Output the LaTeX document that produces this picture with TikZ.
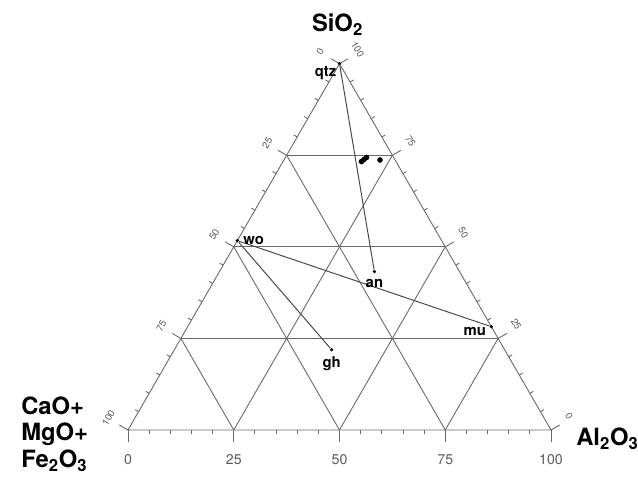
\documentclass[tikz,border=0pt]{standalone}
\usepackage{fontspec}
\setmainfont{TeX Gyre Heros}
\usetikzlibrary{positioning}
\definecolor{gridgray}{RGB}{105,105,105}
\definecolor{tiegray}{RGB}{70,70,70}
\definecolor{numgray}{RGB}{90,90,90}

\begin{document}
\begin{tikzpicture}[x=0.023641cm, y=0.023641cm,
  gridline/.style={gridgray, line width=0.6pt},
  tieline/.style={tiegray, line width=0.65pt},
  phasedot/.style={circle, fill=black, inner sep=0pt, minimum size=2.4pt},
  sampledot/.style={circle, fill=black, inner sep=0pt, minimum size=3.8pt},
  phaselbl/.style={font=\fontsize{10}{12}\selectfont\bfseries, inner sep=1pt},
  oxide/.style={font=\fontsize{16}{18}\selectfont\bfseries, inner sep=0pt},
  axisnum/.style={numgray, font=\fontsize{9.5}{11}\selectfont, inner sep=0pt},
  edgenum/.style={numgray, font=\fontsize{6.5}{8}\selectfont, inner sep=0pt}]
  \useasboundingbox (-128,-47) rectangle (510,430);
  \coordinate (cao) at (0,0);
  \coordinate (alo) at (423,0);
  \coordinate (sio) at (211.5,366.3);

  \draw[gridline] (cao) -- (alo) -- (sio) -- cycle;
  \foreach \v [evaluate=\v as \f using \v/100,
               evaluate=\v as \w using 1-\v/100] in {25,50,75} {
    \draw[gridline] (barycentric cs:cao=\w,sio=\f) -- (barycentric cs:alo=\w,sio=\f);
    \draw[gridline] (barycentric cs:cao=\w,alo=\f) -- (barycentric cs:alo=\f,sio=\w);
    \draw[gridline] (barycentric cs:alo=\w,cao=\f) -- (barycentric cs:cao=\f,sio=\w);
  }
  \foreach \v [evaluate=\v as \f using \v/100,
               evaluate=\v as \w using 1-\v/100,
               evaluate=\v as \tl using {mod(\v,25)==0 ? 12 : 4},
               evaluate=\v as \sl using {mod(\v,25)==0 ? 10 : 4}] in {0,5,...,100} {
    \draw[gridline] (barycentric cs:cao=\w,alo=\f) -- ++(0,-\tl);
    \draw[gridline] (barycentric cs:cao=\f,sio=\w) -- ++(150:\sl);
    \draw[gridline] (barycentric cs:alo=\w,sio=\f) -- ++(30:\sl);
  }
  \foreach \v [evaluate=\v as \f using \v/100,
               evaluate=\v as \w using 1-\v/100] in {0,25,50,75,100} {
    \path (barycentric cs:cao=\w,alo=\f) ++(0,-30) node[axisnum] (bnum-\v) {\v};
    \path (barycentric cs:cao=\f,sio=\w) ++(148:23) node[edgenum, rotate=60] (lnum-\v) {\v};
    \path (barycentric cs:alo=\w,sio=\f) ++(38:23) node[edgenum, rotate=-60] (rnum-\v) {\v};
  }

  \node[oxide, anchor=base] (sio-lbl) at (209.5,398) {SiO\textsubscript{2}};
  \node[oxide, anchor=base west] (alo-lbl) at (448,-16) {Al\textsubscript{2}O\textsubscript{3}};
  \node[oxide, anchor=west, align=left] (cao-lbl) at (-107,-4)
    {CaO+\\MgO+\\Fe\textsubscript{2}O\textsubscript{3}};

  \node[phasedot] (qtz) at (sio) {};
  \node[phasedot] (wo) at (barycentric cs:cao=0.483,sio=0.517) {};
  \node[phasedot] (an) at (barycentric cs:cao=0.201,alo=0.366,sio=0.432) {};
  \node[phasedot] (mu) at (barycentric cs:alo=0.718,sio=0.282) {};
  \node[phasedot] (gh) at (barycentric cs:cao=0.409,alo=0.372,sio=0.219) {};

  \draw[tieline] (qtz) -- (an);
  \draw[tieline] (wo) -- (mu);
  \draw[tieline] (wo) -- (gh);

  \node[phaselbl, below left=0pt and 0pt of qtz] (qtz-lbl) {qtz};
  \node[phaselbl, right=1.5pt of wo] (wo-lbl) {wo};
  \node[phaselbl, below=2.5pt of an] (an-lbl) {an};
  \node[phaselbl, left=1pt of mu, yshift=-3pt] (mu-lbl) {mu};
  \node[phaselbl, below=2pt of gh] (gh-lbl) {gh};

  \node[sampledot] (smp-a) at (233.5,268.5) {};
  \node[sampledot] (smp-b) at (236,270.5) {};
  \node[sampledot] (smp-c) at (238.5,272.5) {};
  \node[sampledot] (smp-d) at (252,270) {};
\end{tikzpicture}
\end{document}
